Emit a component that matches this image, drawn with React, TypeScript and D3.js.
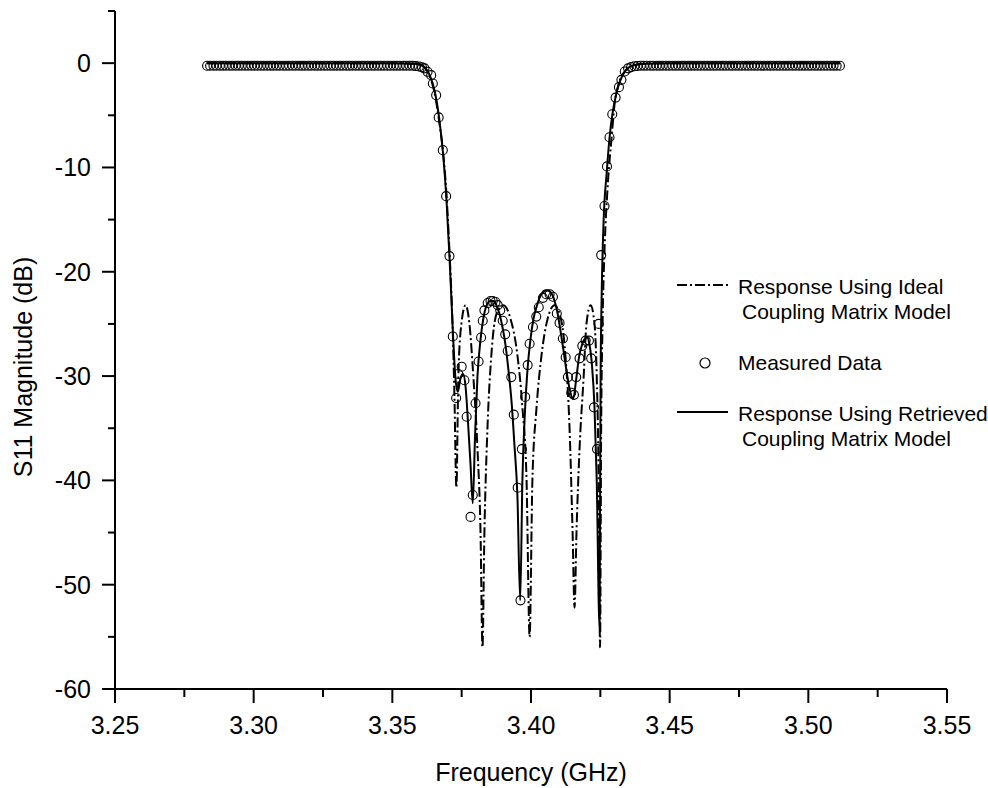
import React from "react";
import * as d3 from "d3";

// ---------- axis ticks ----------
const xMajorTicks = [3.25, 3.3, 3.35, 3.4, 3.45, 3.5, 3.55];
const xMinorTicks = [3.275, 3.325, 3.375, 3.425, 3.475, 3.525];
const yMajorTicks = [0, -10, -20, -30, -40, -50, -60];
const yMinorTicks = [5, -5, -15, -25, -35, -45, -55];

// ---------- measured data (GHz, dB) ----------
const measuredLowFreq = [
  3.2832, 3.2843, 3.2855, 3.2866, 3.2878, 3.2889, 3.29, 3.2912, 3.2923, 3.2935,
  3.2946, 3.2957, 3.2969, 3.298, 3.2992, 3.3003, 3.3014, 3.3026, 3.3037, 3.3049,
  3.306, 3.3071, 3.3083, 3.3094, 3.3106, 3.3117, 3.3128, 3.314, 3.3151, 3.3163,
  3.3174, 3.3185, 3.3197, 3.3208, 3.322, 3.3231, 3.3242, 3.3254, 3.3265, 3.3277,
  3.3288, 3.3299, 3.3311, 3.3322, 3.3334, 3.3345, 3.3356, 3.3368, 3.3379, 3.3391,
  3.3402, 3.3413, 3.3425, 3.3436, 3.3448, 3.3459, 3.347, 3.3482, 3.3493, 3.3505,
  3.3516, 3.3527, 3.3539, 3.355, 3.3562, 3.3573, 3.3584, 3.3596, 3.3607,
];
const measuredLowDb = [
  -0.25, -0.25, -0.25, -0.25, -0.25, -0.25, -0.25, -0.25, -0.25, -0.25,
  -0.25, -0.25, -0.25, -0.25, -0.25, -0.25, -0.25, -0.25, -0.25, -0.25,
  -0.25, -0.25, -0.25, -0.25, -0.25, -0.25, -0.25, -0.25, -0.25, -0.25,
  -0.25, -0.25, -0.25, -0.25, -0.25, -0.25, -0.25, -0.25, -0.25, -0.25,
  -0.25, -0.25, -0.25, -0.25, -0.25, -0.25, -0.25, -0.25, -0.25, -0.25,
  -0.25, -0.25, -0.25, -0.25, -0.25, -0.25, -0.25, -0.25, -0.25, -0.25,
  -0.25, -0.25, -0.25, -0.25, -0.25, -0.25, -0.28, -0.32, -0.4,
];
const measuredPassFreq = [
  3.3616, 3.3627, 3.364, 3.3646, 3.3658, 3.3667, 3.3682, 3.3694, 3.3706, 3.3718,
  3.373, 3.3738, 3.375, 3.376, 3.3768, 3.3782, 3.379, 3.38, 3.3811, 3.382,
  3.3826, 3.3832, 3.3844, 3.3854, 3.3862, 3.3872, 3.388, 3.3889, 3.3898, 3.3907,
  3.3916, 3.3929, 3.3938, 3.3952, 3.3962, 3.3967, 3.3979, 3.3988, 3.3995, 3.4007,
  3.4019, 3.4028, 3.4043, 3.4055, 3.4067, 3.4079, 3.4093, 3.4103, 3.4115, 3.4125,
  3.4133, 3.4145, 3.4155, 3.4163, 3.4175, 3.4185, 3.4197, 3.4209, 3.4217, 3.4227,
  3.4238, 3.4244, 3.4253, 3.4265, 3.4274, 3.4283, 3.4293, 3.4305, 3.4317, 3.4326,
  3.4338, 3.435,
];
const measuredPassDb = [
  -0.5, -0.83, -1.15, -1.95, -3.07, -5.2, -8.34, -12.75, -18.5, -26.2,
  -32.1, -29.8, -29.1, -30.4, -33.9, -43.5, -41.4, -32.6, -28.6, -26.3,
  -24.7, -23.7, -23.0, -22.8, -22.8, -22.9, -23.2, -23.7, -24.7, -26.0,
  -27.6, -30.1, -33.7, -40.7, -51.5, -37.0, -32.0, -28.95, -26.9, -25.3,
  -24.3, -23.4, -22.5, -22.15, -22.15, -22.4, -24.0, -24.9, -26.4, -28.2,
  -30.1, -31.6, -31.8, -30.1, -28.3, -27.1, -26.6, -26.6, -28.3, -33.0,
  -37.0, -25.0, -18.4, -13.7, -9.9, -7.1, -4.9, -3.3, -2.3, -1.6,
  -0.8, -0.5,
];
const measuredHighFreq = [
  3.4361, 3.4373, 3.4384, 3.4396, 3.4407, 3.4418, 3.443, 3.4441, 3.4453, 3.4464,
  3.4475, 3.4487, 3.4498, 3.451, 3.4521, 3.4532, 3.4544, 3.4555, 3.4567, 3.4578,
  3.4589, 3.4601, 3.4612, 3.4624, 3.4635, 3.4646, 3.4658, 3.4669, 3.4681, 3.4692,
  3.4703, 3.4715, 3.4726, 3.4738, 3.4749, 3.476, 3.4772, 3.4783, 3.4795, 3.4806,
  3.4817, 3.4829, 3.484, 3.4852, 3.4863, 3.4874, 3.4886, 3.4897, 3.4909, 3.492,
  3.4931, 3.4943, 3.4954, 3.4966, 3.4977, 3.4988, 3.5, 3.5011, 3.5023, 3.5034,
  3.5045, 3.5057, 3.5068, 3.508, 3.5091, 3.5102, 3.5114,
];
const measuredHighDb = [
  -0.38, -0.3, -0.27, -0.25, -0.25, -0.25, -0.25, -0.25, -0.25, -0.25,
  -0.25, -0.25, -0.25, -0.25, -0.25, -0.25, -0.25, -0.25, -0.25, -0.25,
  -0.25, -0.25, -0.25, -0.25, -0.25, -0.25, -0.25, -0.25, -0.25, -0.25,
  -0.25, -0.25, -0.25, -0.25, -0.25, -0.25, -0.25, -0.25, -0.25, -0.25,
  -0.25, -0.25, -0.25, -0.25, -0.25, -0.25, -0.25, -0.25, -0.25, -0.25,
  -0.25, -0.25, -0.25, -0.25, -0.25, -0.25, -0.25, -0.25, -0.25, -0.25,
  -0.25, -0.25, -0.25, -0.25, -0.25, -0.25, -0.25,
];

// ---------- ideal coupling-matrix model (dash-dot) ----------
const idealFreq = [
  3.2832, 3.35, 3.358, 3.36, 3.3616, 3.3634, 3.3652, 3.367, 3.3682, 3.3695,
  3.3706, 3.3717, 3.3724, 3.3731, 3.3738, 3.3749, 3.3764, 3.3778, 3.3792, 3.3807,
  3.3818, 3.3825, 3.3832, 3.3843, 3.3857, 3.3876, 3.3901, 3.3926, 3.3951, 3.3969,
  3.3984, 3.3995, 3.4005, 3.402, 3.4038, 3.406, 3.4085, 3.4103, 3.4124, 3.4139,
  3.415, 3.4157, 3.4164, 3.4175, 3.419, 3.42, 3.4215, 3.4229, 3.4237, 3.4244,
  3.4249, 3.4253, 3.4258, 3.4265, 3.4276, 3.4291, 3.4301, 3.4316, 3.4338, 3.4363,
  3.4392, 3.445, 3.5114,
];
const idealDb = [
  0, 0, -0.05, -0.15, -0.4, -1.2, -2.8, -5.8, -8.3, -12.5,
  -18, -25, -32, -40.7, -30, -25, -23.2, -25, -30, -37,
  -45, -56, -45, -35, -28, -24, -23.2, -24.5, -28, -33,
  -40, -55, -40, -33, -28, -24.5, -23.2, -24, -28, -35,
  -45, -52.2, -45, -37, -30, -25, -23.2, -25, -30, -40,
  -56, -35, -25, -18, -12, -7, -4, -2, -0.8, -0.3,
  -0.1, 0, 0,
];

// ---------- retrieved coupling-matrix model (solid) ----------
const retrievedFreq = [
  3.2832, 3.35, 3.358, 3.36, 3.3616, 3.3634, 3.3652, 3.367, 3.3684, 3.3695,
  3.3706, 3.3717, 3.3727, 3.3736, 3.3745, 3.3755, 3.3764, 3.3773, 3.3782, 3.379,
  3.3798, 3.3807, 3.3818, 3.3828, 3.3839, 3.3854, 3.3865, 3.3875, 3.3886, 3.3897,
  3.3908, 3.3919, 3.393, 3.394, 3.3951, 3.3961, 3.3969, 3.3978, 3.3987, 3.3998,
  3.4009, 3.4022, 3.4034, 3.4047, 3.406, 3.4072, 3.4085, 3.4096, 3.4106, 3.4117,
  3.4128, 3.4139, 3.4152, 3.4163, 3.4173, 3.4184, 3.4195, 3.4202, 3.4211, 3.422,
  3.4229, 3.4237, 3.4247, 3.4251, 3.4255, 3.4262, 3.4273, 3.4283, 3.4294, 3.4307,
  3.432, 3.4334, 3.4348, 3.437, 3.441, 3.45, 3.5114,
];
const retrievedDb = [
  0, 0, -0.05, -0.15, -0.4, -1.1, -2.6, -5.5, -9, -13,
  -18.5, -25, -30, -31.5, -30.3, -29.8, -31, -34.5, -38.5, -42.2,
  -36, -30, -26.5, -24.5, -23.3, -22.8, -22.8, -23.2, -24, -25.3,
  -27, -29.5, -32.5, -36.5, -41.5, -51.5, -40, -33.5, -29.5, -26.5,
  -24.5, -23.2, -22.3, -21.9, -21.8, -22, -22.8, -24, -25.6, -27.5,
  -29.5, -31.2, -32.2, -30.3, -28.2, -27, -26.4, -26.3, -27, -29,
  -33, -40, -54, -30, -22, -15, -10.5, -7.2, -4.8, -3,
  -1.8, -1.0, -0.5, -0.2, -0.05, 0, 0,
];

const FONT = "'Liberation Sans', Arial, Helvetica, sans-serif";

type Pt = [number, number];
const zip = (a: number[], b: number[]): Pt[] => a.map((v, i) => [v, b[i]]);

export default function App() {
  const W = 988;
  const H = 788;
  const x = d3.scaleLinear().domain([3.25, 3.55]).range([115, 947]);
  const y = d3.scaleLinear().domain([-60, 5]).range([689, 11]);

  const line = d3
    .line<Pt>()
    .x((d) => x(d[0]))
    .y((d) => y(d[1]))
    .curve(d3.curveMonotoneX);

  const ideal = zip(idealFreq, idealDb);
  const retrieved = zip(retrievedFreq, retrievedDb);
  const measured = [
    ...zip(measuredLowFreq, measuredLowDb),
    ...zip(measuredPassFreq, measuredPassDb),
    ...zip(measuredHighFreq, measuredHighDb),
  ];

  const x0 = x.range()[0];
  const yBase = y(-60);
  const dashDot = "10,3,2,3";

  return (
    <svg
      width={W}
      height={H}
      style={{ position: "absolute", left: 0, top: 0, background: "#fff" }}
      fontFamily={FONT}
    >
      <rect x={0} y={0} width={W} height={H} fill="#fff" />

      {/* curves */}
      <path d={line(ideal) || ""} fill="none" stroke="#000" strokeWidth={2} strokeDasharray={dashDot} />
      <path d={line(retrieved) || ""} fill="none" stroke="#000" strokeWidth={2} />

      {/* measured circles */}
      <g fill="none" stroke="#000" strokeWidth={1.1}>
        {measured.map((d, i) => (
          <circle key={i} cx={x(d[0])} cy={y(d[1])} r={4.5} />
        ))}
      </g>

      {/* axes */}
      <g stroke="#000" strokeWidth={2} fill="none">
        <line x1={x0} x2={x0} y1={y(5)} y2={yBase} />
        <line x1={x0 - 13} x2={x(3.55)} y1={yBase} y2={yBase} />
        {yMajorTicks.map((t) => (
          <line key={"ym" + t} x1={x0 - 13} x2={x0} y1={y(t)} y2={y(t)} />
        ))}
        {yMinorTicks.map((t) => (
          <line key={"yn" + t} x1={x0 - 7} x2={x0} y1={y(t)} y2={y(t)} />
        ))}
        {xMajorTicks.map((t) => (
          <line key={"xm" + t} x1={x(t)} x2={x(t)} y1={yBase} y2={yBase + 14} />
        ))}
        {xMinorTicks.map((t) => (
          <line key={"xn" + t} x1={x(t)} x2={x(t)} y1={yBase} y2={yBase + 8} />
        ))}
      </g>

      <g fontSize={25} fill="#000">
        {yMajorTicks.map((t) => (
          <text key={"yl" + t} x={x0 - 24} y={y(t) + 9} textAnchor="end">
            {t}
          </text>
        ))}
        {xMajorTicks.map((t) => (
          <text key={"xl" + t} x={x(t)} y={yBase + 45} textAnchor="middle">
            {t.toFixed(2)}
          </text>
        ))}
        <text x={(x(3.25) + x(3.55)) / 2} y={781} textAnchor="middle">
          Frequency (GHz)
        </text>
        <text transform={`translate(32, 367) rotate(-90)`} textAnchor="middle">
          S11 Magnitude (dB)
        </text>
      </g>

      {/* legend */}
      <g fontSize={21} fill="#000">
        <line x1={677} x2={728} y1={285} y2={285} stroke="#000" strokeWidth={2} strokeDasharray={dashDot} />
        <text x={738} y={294}>Response Using Ideal</text>
        <text x={742} y={319}>Coupling Matrix Model</text>
        <circle cx={705} cy={363} r={5} fill="none" stroke="#000" strokeWidth={1.2} />
        <text x={738} y={370}>Measured Data</text>
        <line x1={677} x2={728} y1={412} y2={412} stroke="#000" strokeWidth={2} />
        <text x={738} y={421}>Response Using Retrieved</text>
        <text x={742} y={446}>Coupling Matrix Model</text>
      </g>
    </svg>
  );
}
